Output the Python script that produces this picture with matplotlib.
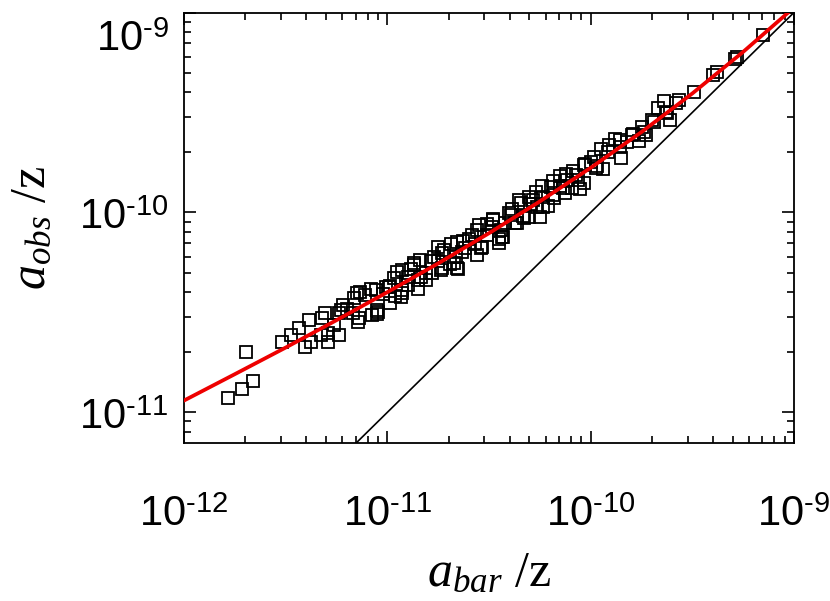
import numpy as np
import matplotlib
matplotlib.use('Agg')
from matplotlib import pyplot as plt
from matplotlib import transforms
from matplotlib.ticker import LogLocator, FixedLocator, FuncFormatter, NullFormatter

plt.rcParams['mathtext.fontset'] = 'custom'
plt.rcParams['mathtext.rm'] = 'Liberation Sans'
plt.rcParams['mathtext.it'] = 'Liberation Serif:italic'

# log10 of a_bar/z and a_obs/z
log_abar = [
    -11.782, -11.717, -11.659, -11.694, -11.516, -11.474, -11.405, -11.435, -11.376, -11.386,
    -11.327, -11.294, -11.308, -11.240, -11.240, -11.220, -11.142, -11.162, -11.133, -11.074,
    -11.045, -11.055, -11.006, -10.986, -10.967, -10.928, -10.928, -10.898, -10.869, -10.849,
    -10.810, -10.771, -10.733, -10.733, -10.674, -10.655, -10.655, -10.616, -10.557, -10.557,
    -10.509, -10.479, -10.440, -10.430, -10.401, -10.372, -10.342, -10.303, -10.303, -10.264,
    -10.235, -10.196, -10.186, -10.128, -10.118, -10.070, -10.031, -9.972, -9.982, -9.914,
    -9.855, -9.855, -9.797, -9.748, -9.738, -9.690, -9.631, -9.626, -9.582, -9.565,
    -9.494, -9.397, -9.377, -9.289, -9.280, -9.153,
    -11.32, -11.26, -11.20, -11.14, -11.08, -11.02, -10.96, -10.90, -10.84, -10.78,
    -10.72, -10.66, -10.60, -10.54, -10.48, -10.42, -10.36, -10.30, -10.24, -10.18,
    -10.12, -10.06, -10.00, -9.94, -9.88, -9.82, -9.76, -9.70, -9.64,
    -11.29, -11.23, -11.17, -11.11, -11.05, -10.99, -10.93, -10.87, -10.81, -10.75,
    -10.69, -10.63, -10.57, -10.51, -10.45, -10.39, -10.33, -10.27, -10.21, -10.15,
    -10.09, -10.03, -9.97, -9.91, -9.85, -9.79, -9.73, -9.67, -9.61,
    -10.985, -10.935, -10.885, -10.835, -10.785, -10.735, -10.685, -10.635, -10.585, -10.535,
    -10.485, -10.435, -10.385, -10.335, -10.285, -10.235, -10.185, -10.135, -10.085, -10.035,
    -11.15, -11.05, -10.95, -10.85, -10.75, -10.65, -10.55, -10.45, -10.35, -10.25,
    -10.15, -10.05, -9.95,
]
log_aobs = [
    -10.930, -10.885, -10.844, -10.697, -10.647, -10.614, -10.672, -10.580, -10.647, -10.539,
    -10.614, -10.647, -10.505, -10.614, -10.505, -10.464, -10.547, -10.430, -10.397, -10.514,
    -10.497, -10.389, -10.372, -10.455, -10.330, -10.405, -10.289, -10.364, -10.255, -10.339,
    -10.305, -10.222, -10.280, -10.205, -10.255, -10.280, -10.147, -10.180, -10.214, -10.089,
    -10.114, -10.039, -10.089, -10.122, -10.005, -10.055, -9.955, -10.022, -9.922, -9.972,
    -9.922, -9.872, -9.914, -9.905, -9.839, -9.814, -9.764, -9.780, -9.722, -9.697,
    -9.672, -9.639, -9.614, -9.572, -9.597, -9.547, -9.497, -9.505, -9.455, -9.440,
    -9.397, -9.314, -9.297, -9.235, -9.225, -9.114,
    -10.527, -10.565, -10.481, -10.527, -10.384, -10.410, -10.416, -10.321, -10.237, -10.302,
    -10.187, -10.221, -10.134, -10.178, -10.031, -10.053, -10.055, -9.957, -9.868, -9.928,
    -9.808, -9.837, -9.747, -9.784, -9.631, -9.648, -9.645, -9.539, -9.443,
    -10.601, -10.488, -10.504, -10.411, -10.487, -10.373, -10.389, -10.264, -10.340, -10.245,
    -10.259, -10.143, -10.156, -10.060, -10.132, -10.014, -10.026, -9.898, -9.968, -9.868,
    -9.877, -9.757, -9.766, -9.663, -9.730, -9.607, -9.613, -9.476, -9.540,
    -10.370, -10.422, -10.283, -10.324, -10.245, -10.286, -10.156, -10.196, -10.115, -10.175,
    -10.074, -10.123, -9.981, -10.019, -9.937, -9.975, -9.841, -9.878, -9.794, -9.851,
    -10.403, -10.507, -10.300, -10.383, -10.175, -10.285, -10.064, -10.152, -9.939, -10.025,
    -9.818, -9.881, -9.681,
]

# red relation, log10 values
fit_log_x = [-12.0, -11.75, -11.5, -11.25, -11.0, -10.75, -10.5, -10.25, -10.0, -9.75, -9.5, -9.25, -9.0]
fit_log_y = [-10.941, -10.809, -10.676, -10.539, -10.399, -10.255, -10.104, -9.945, -9.777, -9.598, -9.405, -9.197, -8.975]

# one-to-one line
unity = [1e-12, 1e-9]

# labelled decades
x_major = [1e-12, 1e-11, 1e-10, 1e-9]
y_major = [1e-11, 1e-10, 1e-9]

x = 10.0 ** np.array(log_abar)
y = 10.0 ** np.array(log_aobs)

fig = plt.figure(figsize=(8.3, 6.01), dpi=100)
ax = fig.add_axes([0.2217, 0.2634, 0.7349, 0.7158])

ax.plot(x, y, 's', ms=8.8, mfc='none', mec='black', mew=1.3, zorder=2)
ax.plot(unity, unity, color='black', lw=1.2, zorder=3)
ax.plot(10.0 ** np.array(fit_log_x), 10.0 ** np.array(fit_log_y), color='#ee0000', lw=2.7, zorder=4)

ax.set_xscale('log')
ax.set_yscale('log')
ax.set_xlim(1e-12, 1e-9)
ax.set_ylim(7.05e-12, 1e-9)

ax.xaxis.set_major_locator(FixedLocator(x_major))
ax.yaxis.set_major_locator(FixedLocator(y_major))
ax.xaxis.set_minor_locator(LogLocator(base=10, subs=np.arange(2, 10), numticks=20))
ax.yaxis.set_minor_locator(LogLocator(base=10, subs=np.arange(2, 10), numticks=20))
fmt = FuncFormatter(lambda v, p: r'$10^{\text{-}%d}$' % abs(int(round(np.log10(v)))))
ax.xaxis.set_major_formatter(fmt)
ax.yaxis.set_major_formatter(fmt)
ax.xaxis.set_minor_formatter(NullFormatter())
ax.yaxis.set_minor_formatter(NullFormatter())

ax.tick_params(which='both', direction='in', top=True, right=True, width=1.2, labelsize=30)
ax.tick_params(which='major', length=8.6)
ax.tick_params(which='minor', length=4.8)
ax.tick_params(axis='x', which='major', pad=36)
ax.tick_params(axis='y', which='major', pad=11)
for s in ax.spines.values():
    s.set_linewidth(1.3)

ax.set_xlabel(r'$a_{bar}$ /z', fontfamily='Liberation Serif', fontsize=36)
ax.set_ylabel(r'$a_{obs}$ /z', fontfamily='Liberation Serif', fontsize=36)
ax.xaxis.set_label_coords(0.5, -0.251)
ax.yaxis.set_label_coords(-0.21, 0.5)

# the top y label sits a little lower than its tick, as in the original
fig.canvas.draw()
for t in ax.yaxis.get_major_ticks():
    if abs(np.log10(t.get_loc()) + 9) < 1e-6:
        lab = t.label1
        lab.set_transform(lab.get_transform() + transforms.ScaledTranslation(0, -16 / 72, fig.dpi_scale_trans))

fig.savefig('out.png', dpi=100)
